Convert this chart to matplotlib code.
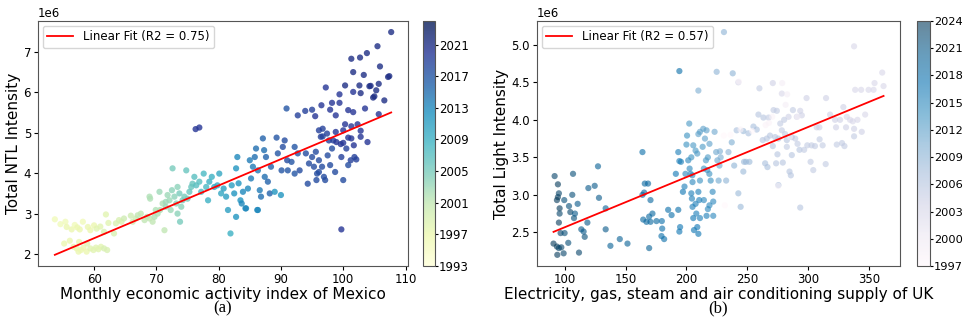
import numpy as np
import matplotlib.pyplot as plt

# ---- Panel (a): Mexico, monthly economic activity index vs total NTL (x1e6) ----
mx_index = [
    53.7, 54.6, 55.4, 55.6, 56.4, 56.9, 57.3, 57.7, 58.2, 59.0, 59.4, 60.0, 60.4, 61.0, 61.9, 62.3,
    55.2, 56.1, 56.7, 57.2, 57.5, 57.9, 58.3, 58.8, 59.4, 59.9, 60.3, 60.7, 61.1, 61.6, 62.1, 57.6, 58.9, 61.6, 63.2,
    63.5, 64.0, 64.4, 64.8, 65.9, 66.2, 66.7, 67.0, 67.5, 68.1, 68.5, 68.9, 69.4, 69.7, 70.2, 70.6, 71.0, 71.5, 69.9, 69.0, 68.9, 71.3,
    70.5, 71.8, 72.1, 72.5, 72.6, 72.9, 73.4, 73.7, 74.0, 74.2, 74.5, 74.8, 75.0, 75.3, 75.6, 75.8, 76.1, 73.4, 73.8, 73.2, 72.3, 71.5,
    76.4, 76.9, 77.2, 77.6, 78.0, 78.3, 78.5, 78.9, 79.3, 79.8, 80.1, 80.4, 80.8, 81.2, 81.5, 81.9, 82.1, 82.5, 82.8, 83.0,
    83.2, 83.5, 83.7, 82.8, 83.9, 84.4,
    84.7, 85.0, 85.2, 85.5, 85.8, 86.0, 86.3, 86.6, 86.8, 87.1, 87.3, 87.4, 87.6, 86.3, 87.9, 88.2, 88.4, 89.0, 89.3, 89.5,
    90.0, 90.1, 90.3, 90.6, 91.0, 84.3, 86.2,
    90.9, 92.2, 92.7, 91.7, 91.1, 92.2, 93.0, 92.7, 76.3, 76.9,
    107.7, 105.5, 103.8, 102.7, 101.3, 105.9, 101.6, 103.3, 107.4, 107.2, 100.3, 97.2, 102.6, 104.2, 104.4, 105.7,
    105.3, 101.6, 102.8, 99.4, 105.0, 104.8, 106.6, 98.2, 99.4, 96.5, 103.5, 100.8, 97.9, 101.6, 98.8, 105.7, 95.5, 95.0, 93.9,
    100.3, 102.3, 101.3, 102.8, 96.1, 96.7, 98.8, 100.0, 96.4, 96.7, 97.4, 97.7, 98.4, 98.9, 99.6, 100.0, 100.8, 101.3,
    101.7, 102.8, 103.9, 97.5, 98.2, 99.7, 100.5, 101.2, 101.8, 102.1, 98.7, 100.0, 100.8, 97.9, 97.1, 99.7,
    94.0, 94.5, 95.0, 95.3, 95.8, 95.7, 96.1, 96.6, 96.9, 96.1, 94.3, 95.6,
]
mx_ntl = [
    2.86, 2.74, 2.80, 2.67, 2.61, 2.72, 2.66, 2.61, 2.80, 2.67, 2.59, 2.71, 2.63, 2.68, 2.98, 2.77,
    2.26, 2.33, 2.18, 2.14, 2.06, 2.10, 2.16, 2.06, 2.14, 2.10, 2.16, 2.12, 2.18, 2.14, 2.10, 2.30, 2.26, 2.55, 2.51,
    2.76, 2.84, 2.80, 2.88, 2.95, 2.80, 2.88, 2.96, 3.00, 2.84, 2.92, 2.88, 2.80, 2.92, 3.00, 3.09, 3.25, 3.29, 3.09, 3.37, 3.42, 2.59,
    3.54, 3.46, 3.33, 3.58, 4.12, 3.42, 3.66, 3.50, 3.17, 3.33, 3.42, 4.07, 3.37, 3.54, 3.66, 3.74, 3.91, 3.00, 2.80, 3.25, 3.09, 3.17,
    3.70, 3.79, 3.54, 3.99, 3.66, 3.33, 3.79, 3.91, 3.66, 3.70, 3.99, 3.50, 3.62, 3.42, 3.09, 2.51, 3.70, 3.50, 4.12, 4.40,
    3.75, 3.33, 3.25, 2.92, 3.54, 3.13,
    3.62, 4.32, 3.87, 4.16, 4.40, 4.61, 4.07, 3.58, 3.42, 4.86, 4.57, 3.91, 4.40, 3.09, 3.79, 3.50, 4.16, 3.54, 4.88, 4.49,
    3.46, 4.07, 4.65, 4.81, 4.32, 3.13, 3.09,
    5.60, 4.65, 4.49, 4.28, 4.07, 3.99, 4.07, 5.43, 5.09, 5.13,
    7.49, 7.14, 6.97, 6.86, 6.83, 6.64, 6.50, 6.43, 6.40, 6.38, 6.17, 6.12, 6.17, 6.15, 6.16, 6.21,
    6.05, 6.01, 5.98, 5.95, 5.90, 5.87, 5.80, 5.74, 5.74, 5.68, 5.60, 5.56, 5.57, 5.51, 5.43, 5.46, 5.41, 5.57, 5.54,
    5.21, 5.21, 5.16, 5.05, 5.06, 5.10, 5.02, 5.06, 4.90, 4.91, 4.98, 4.81, 4.81, 4.77, 4.72, 4.75, 4.88, 4.86,
    4.69, 4.90, 4.77, 4.44, 4.61, 4.40, 4.61, 4.32, 4.40, 4.34, 4.03, 3.83, 4.20, 4.20, 3.83, 2.61,
    4.49, 4.24, 4.40, 4.16, 3.99, 3.83, 4.32, 4.16, 3.91, 4.03, 3.74, 4.53,
]
mx_year = [
    1996, 1996, 1996, 1997, 1997, 1996, 1997, 1997, 1996, 1997, 1997, 1997, 1998, 1998, 1998, 1998,
    1997, 1997, 1997, 1997, 1997, 1997, 1997, 1997, 1998, 1998, 1998, 1998, 1998, 1999, 1999, 1997, 1998, 1999, 1999,
    1999, 1999, 1999, 2000, 2000, 2000, 2000, 2001, 2001, 2001, 2001, 2001, 2001, 2002, 2002, 2002, 2002, 2003, 2002, 2002, 2002, 2001,
    2003, 2003, 2003, 2004, 2005, 2004, 2004, 2005, 2004, 2005, 2005, 2006, 2005, 2006, 2006, 2006, 2007, 2004, 2005, 2004, 2003, 2003,
    2007, 2007, 2008, 2008, 2008, 2009, 2009, 2009, 2010, 2010, 2010, 2010, 2011, 2011, 2011, 2009, 2011, 2012, 2012, 2013,
    2012, 2012, 2013, 2012, 2013, 2013,
    2013, 2014, 2014, 2014, 2015, 2015, 2014, 2014, 2015, 2016, 2015, 2015, 2016, 2013, 2016, 2016, 2016, 2012, 2017, 2017,
    2012, 2017, 2018, 2018, 2018, 2013, 2013,
    2017, 2017, 2017, 2017, 2017, 2017, 2018, 2019, 2020, 2020,
    2021, 2021, 2021, 2021, 2021, 2021, 2021, 2021, 2021, 2021, 2021, 2020, 2021, 2021, 2021, 2021,
    2021, 2020, 2021, 2020, 2021, 2021, 2021, 2020, 2020, 2020, 2020, 2020, 2020, 2020, 2020, 2020, 2020, 2019, 2019,
    2020, 2020, 2020, 2020, 2019, 2019, 2020, 2020, 2019, 2019, 2019, 2019, 2019, 2020, 2020, 2020, 2020, 2020,
    2020, 2020, 2020, 2018, 2018, 2019, 2019, 2019, 2019, 2019, 2018, 2018, 2018, 2018, 2018, 2020,
    2018, 2018, 2018, 2018, 2018, 2018, 2018, 2018, 2018, 2018, 2018, 2018,
]
mx_fit = [0.0652, -1.52]  # slope, intercept (x1e6) as drawn

# ---- Panel (b): UK, electricity/gas supply vs total light intensity (x1e6) ----
uk_supply = [
    91.8, 93.7, 94.5, 95.3, 94.5, 95.9, 95.9, 95.3, 96.7, 90.9, 93.7, 95.3, 97.3, 94.0, 99.2, 100.0,
    99.7, 103.6, 104.7, 106.3, 106.9, 107.7, 108.5, 110.7, 111.8, 103.0, 113.7, 115.6, 116.5, 118.7, 119.5, 124.7,
    127.4, 128.2, 133.7, 133.7, 137.6, 145.3, 151.6,
    163.9, 163.9, 165.3, 165.8, 168.5, 164.5, 167.2, 169.4, 170.5, 169.4, 170.5, 172.1, 175.4, 179.8, 180.1, 179.5,
    181.7, 185.0, 187.8, 191.3, 193.3, 194.2, 194.8, 194.2, 195.5, 193.3, 197.1, 198.4, 199.2, 200.0, 200.5, 201.5,
    202.6, 203.4, 204.0, 204.8, 205.0, 204.0, 204.5, 205.0, 205.6, 206.2, 207.5, 208.1, 208.9, 209.8, 209.8, 210.5,
    211.1, 211.1, 205.6, 207.5, 208.9, 209.8, 211.1, 213.8, 215.2, 216.5, 217.6, 218.9, 213.3, 214.3, 216.0, 217.1,
    218.8, 219.9, 221.5, 222.0, 218.9, 217.6, 216.5, 214.3, 202.3, 194.2, 209.8, 222.0, 223.1, 224.4, 225.4, 227.1,
    226.4, 227.5, 228.1,
    230.8, 224.8, 238.0, 237.2, 234.5, 232.6, 239.2, 242.6, 244.5, 247.3, 248.9, 246.7, 251.7, 255.0,
    242.6, 259.9, 270.9, 278.3, 259.1, 263.2, 267.4, 271.5, 274.2, 277.0, 280.2, 283.8, 287.4, 290.6, 293.4, 294.7,
    257.7, 250.9, 246.7, 241.2, 262.6, 265.9, 268.6, 270.9, 272.8, 275.5, 278.3, 281.0, 282.4, 286.5, 289.3, 291.2,
    292.8, 296.6, 264.6, 266.5, 273.6, 274.7, 279.1, 282.4, 284.6, 285.7, 286.5, 275.5, 293.4, 285.0,
    337.6, 360.7, 354.4, 361.8, 338.5, 343.4, 349.5, 353.6, 298.6, 314.6, 328.8, 346.7, 317.9, 322.0, 326.1, 331.6,
    334.3, 336.5, 340.4, 306.9, 309.1, 322.8, 331.0, 337.6, 343.9, 309.3, 299.2, 302.7, 305.5, 311.8, 323.4, 327.7,
    329.7, 337.6, 301.9, 304.1, 314.3,
    243.0, 244.4, 236.2, 230.7, 278.6, 282.7, 291.0, 270.4, 267.7, 254.0, 281.4, 265.0, 275.3, 231.5,
]
uk_light = [
    3.25, 2.93, 2.97, 3.02, 3.14, 2.82, 2.75, 2.63, 2.49, 2.35, 2.31, 2.29, 2.30, 2.20, 2.22, 2.49,
    2.93, 2.85, 2.77, 3.00, 3.28, 2.69, 2.75, 2.88, 2.23, 2.36, 2.54, 2.51, 2.44, 2.63, 3.09, 3.12,
    3.38, 2.96, 2.82, 2.54, 2.32, 2.41, 2.35,
    3.57, 3.00, 3.03, 3.15, 3.15, 2.67, 2.64, 2.71, 2.64, 2.29, 2.93, 2.75, 2.65, 2.65, 2.55, 2.45,
    2.41, 2.80, 2.73, 3.28, 2.80, 2.51, 2.57, 3.45, 3.44, 3.57, 3.04, 3.11, 3.28, 3.67, 3.79, 3.46,
    3.35, 3.28, 3.50, 3.26, 3.17, 3.02, 2.95, 2.84, 2.69, 2.53, 2.88, 2.75, 2.57, 2.48, 3.04, 2.93,
    2.69, 3.19, 3.66, 3.59, 3.55, 3.81, 3.84, 3.88, 3.75, 3.86, 3.50, 3.68, 3.64, 3.35, 3.46, 3.33,
    3.28, 3.19, 3.04, 2.91, 2.86, 2.81, 2.72, 2.93, 3.95, 4.65, 4.39, 2.72, 3.84, 3.57, 3.46, 3.39,
    3.19, 3.58, 3.50,
    5.17, 4.64, 4.62, 3.70, 3.57, 3.19, 3.39, 3.02, 2.84, 3.44, 3.44, 3.31, 3.44, 3.91,
    4.50, 4.42, 4.49, 4.35, 4.07, 4.03, 4.03, 4.13, 4.12, 3.95, 4.00, 4.04, 4.13, 4.04, 4.12, 4.06,
    3.87, 3.82, 3.85, 3.86, 3.73, 3.75, 3.79, 3.65, 3.77, 3.75, 3.86, 3.81, 3.73, 3.77, 3.75, 3.68,
    3.60, 3.60, 3.42, 3.37, 3.42, 3.54, 3.43, 3.64, 3.31, 3.26, 3.53, 3.13, 2.83, 3.77,
    4.98, 4.63, 4.49, 4.45, 4.40, 4.40, 4.40, 4.40, 4.29, 4.29, 4.17, 4.07, 4.07, 4.00, 4.00, 4.04,
    4.00, 3.98, 4.00, 3.90, 3.90, 3.90, 3.90, 3.88, 3.84, 3.74, 3.66, 3.66, 3.65, 3.66, 3.67, 3.69,
    3.65, 3.78, 3.44, 3.33, 3.41,
    4.51, 3.87, 3.80, 3.79, 4.49, 4.34, 4.04, 4.04, 3.96, 3.85, 4.20, 3.93, 3.12, 2.86,
]
uk_year = [
    2023, 2024, 2024, 2023, 2024, 2024, 2023, 2024, 2023, 2024, 2024, 2023, 2023, 2024, 2023, 2022,
    2022, 2022, 2023, 2022, 2022, 2022, 2021, 2021, 2023, 2022, 2021, 2021, 2022, 2021, 2021, 2021,
    2020, 2021, 2020, 2021, 2020, 2020, 2020,
    2018, 2019, 2019, 2019, 2019, 2019, 2019, 2019, 2019, 2020, 2019, 2019, 2019, 2018, 2018, 2018,
    2018, 2018, 2018, 2017, 2018, 2017, 2017, 2016, 2016, 2016, 2017, 2016, 2015, 2014, 2014, 2015,
    2015, 2015, 2014, 2015, 2015, 2016, 2016, 2016, 2017, 2017, 2016, 2016, 2017, 2017, 2016, 2016,
    2016, 2014, 2013, 2013, 2013, 2012, 2012, 2012, 2012, 2012, 2013, 2012, 2013, 2014, 2013, 2014,
    2014, 2014, 2015, 2015, 2015, 2015, 2016, 2015, 2013, 2018, 2010, 2015, 2011, 2011, 2011, 2011,
    2011, 2010, 2010,
    2009, 2009, 2009, 2010, 2009, 2009, 2009, 2008, 2008, 2008, 2008, 2008, 2008, 2007,
    2004, 2005, 2004, 2003, 2006, 2006, 2005, 2005, 2005, 2005, 2005, 2004, 2005, 2004, 2004, 2004,
    2007, 2007, 2008, 2007, 2006, 2006, 2006, 2006, 2006, 2006, 2005, 2005, 2006, 2006, 2005, 2005,
    2006, 2005, 2007, 2007, 2006, 2006, 2006, 2005, 2006, 2006, 2006, 2007, 2006, 2000,
    2003, 2003, 2003, 2003, 2003, 2003, 2003, 2003, 2004, 2004, 2004, 2003, 2004, 2004, 2004, 2003,
    2003, 2003, 2003, 2004, 2004, 2004, 2004, 2004, 2004, 2005, 2005, 2005, 2005, 2005, 2005, 2005,
    2005, 2005, 2005, 2005, 2005,
    1998, 1998, 1997, 1997, 1999, 1999, 1999, 1998, 1998, 1997, 1999, 1998, 1999, 1997,
]
uk_fit = [0.00669, 1.898]  # slope, intercept (x1e6) as drawn

plt.rcParams["font.family"] = ["DejaVu Sans"]

fig = plt.figure(figsize=(9.65, 3.22), dpi=100)
ax1 = fig.add_axes([0.0394, 0.174, 0.3834, 0.761])
cax1 = fig.add_axes([0.4383, 0.174, 0.0124, 0.761])
ax2 = fig.add_axes([0.5565, 0.174, 0.3762, 0.761])
cax2 = fig.add_axes([0.9503, 0.174, 0.0135, 0.761])


def panel(ax, cax, x, y, yr, fit, cmap, alpha, vmin, vmax, cticks, xlabel, ylabel, r2, tag,
          cb_size=8.5):
    x = np.array(x)
    y = np.array(y) * 1e6
    sc = ax.scatter(x, y, c=yr, cmap=cmap, alpha=alpha, s=20, linewidths=0,
                    vmin=vmin, vmax=vmax)
    xs = np.array([x.min(), x.max()])
    ax.plot(xs, (fit[0] * xs + fit[1]) * 1e6, color="red", linewidth=1.3,
            label=f"Linear Fit (R2 = {r2})")
    ax.set_xlabel(xlabel, fontsize=11, labelpad=1)
    ax.set_ylabel(ylabel, fontsize=11, labelpad=2)
    ax.tick_params(labelsize=8.5, pad=2, length=3)
    ax.yaxis.get_offset_text().set_fontsize(8.5)
    ax.legend(loc="upper left", fontsize=8.5, handlelength=2.2, borderaxespad=0.4)
    for s in ax.spines.values():
        s.set_color("#555555")
    cb = fig.colorbar(sc, cax=cax, ticks=cticks)
    cb.ax.tick_params(labelsize=cb_size, pad=1, length=2)
    cb.outline.set_edgecolor("#555555")
    ax.text(0.5, -0.175, tag, transform=ax.transAxes, ha="center", va="center",
            fontsize=12, family="Liberation Serif")


panel(ax1, cax1, mx_index, mx_ntl, mx_year, mx_fit, "YlGnBu", 0.8, 1993, 2024,
      list(range(1993, 2025, 4)), "Monthly economic activity index of Mexico",
      "Total NTL Intensity", "0.75", "(a)")
panel(ax2, cax2, uk_supply, uk_light, uk_year, uk_fit, "PuBu", 0.6, 1997, 2024,
      list(range(1997, 2025, 3)), "Electricity, gas, steam and air conditioning supply of UK",
      "Total Light Intensity", "0.57", "(b)", cb_size=8.2)
ax1.set_yticks(np.arange(2, 8) * 1e6)
ax2.set_yticks(np.arange(2.5, 5.01, 0.5) * 1e6)

fig.savefig("out.png", dpi=100)
